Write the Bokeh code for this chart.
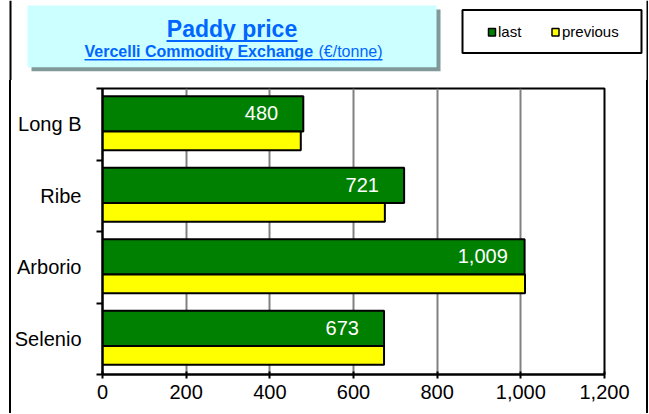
from bokeh.plotting import figure
from bokeh.layouts import column, row
from bokeh.models import FixedTicker, NumeralTickFormatter, ColumnDataSource, Range1d, Spacer
from bokeh.embed import file_html
from bokeh.resources import INLINE
from bokeh.core.properties import value

# ---- data ----
categories = ["Long B", "Ribe", "Arborio", "Selenio"]
last = [480, 721, 1009, 673]
previous = [474, 675, 1010, 673]
x_ticks = [0, 200, 400, 600, 800, 1000, 1200]
series_names = ["last", "previous"]
title = "Paddy price"
subtitle_bold = "Vercelli Commodity Exchange"
subtitle_unit = "(€/tonne)"

FONT = "Liberation Sans"
GREEN = "#008000"
YELLOW = "#FFFF00"
BLUE = "#0066FF"
CYAN = "#CCFFFF"
SHADOW = "#809999"


def blank(w, h, xr, yr, color="white"):
    f = figure(width=w, height=h, x_range=Range1d(*xr), y_range=Range1d(*yr),
               x_axis_type=None, y_axis_type=None, output_backend="svg",
               toolbar_location=None, min_border=0)
    f.outline_line_color = None
    f.background_fill_color = color
    f.border_fill_color = color
    return f


# ---------------- header (title + legend) ----------------
W, HH = 648, 80
head = blank(W, HH, (0, W), (HH, 0))
# outer border (left/right)
head.segment(x0=[10, 647], y0=[0, 0], x1=[10, 647], y1=[HH, HH],
             line_color="black", line_width=2)
# title box with shadow
head.quad(left=[31], right=[440], top=[9], bottom=[70.7], fill_color=SHADOW, line_color=None)
head.quad(left=[27], right=[436], top=[5], bottom=[66.7], fill_color=CYAN, line_color=None)
head.text(x=[231.5], y=[36 - 0.33 * 23], text=[title], text_font=value(FONT),
          text_font_size="23px", text_font_style="bold", text_color=BLUE,
          text_align="center", text_baseline="middle")
head.quad(left=[166], right=[297], top=[39.5], bottom=[41.5], fill_color=BLUE, line_color=None)
head.text(x=[84], y=[56 - 0.33 * 16], text=[subtitle_bold], text_font=value(FONT),
          text_font_size="16px", text_font_style="bold", text_color=BLUE,
          text_align="left", text_baseline="middle")
head.text(x=[318], y=[56 - 0.33 * 16], text=[subtitle_unit], text_font=value(FONT),
          text_font_size="16px", text_color=BLUE, text_align="left",
          text_baseline="middle")
head.quad(left=[84], right=[382], top=[58.5], bottom=[60], fill_color=BLUE, line_color=None)
# legend box
head.quad(left=[462], right=[641], top=[9.5], bottom=[52.5], fill_color="white",
          line_color="black", line_width=2)
head.quad(left=[488, 551.5], right=[495, 558.5], top=[28, 28], bottom=[35.5, 35.5],
          fill_color=[GREEN, YELLOW], line_color="black", line_width=1.5)
head.text(x=[497.5, 561.5], y=[35.5 - 0.33 * 15] * 2, text=series_names,
          text_font=value(FONT), text_font_size="15px", text_color="black",
          text_align="left", text_baseline="middle")

# ---------------- main chart ----------------
n = len(categories)
band_top = [n - i for i in range(n)]

src = ColumnDataSource(dict(
    cat=categories, last=last, previous=previous,
    g_top=[t - 0.11 for t in band_top],
    g_bot=[t - 0.60 for t in band_top],
    y_bot=[t - 0.865 for t in band_top],
    lbl=[f"{v:,}" for v in last],
    lbl_x=[v - 100 for v in last],
    lbl_y=[t - 0.345 for t in band_top],
))

MW, MH = 627, 333
p = figure(width=MW, height=MH, x_range=Range1d(0, 1200), y_range=Range1d(0, n),
           output_backend="svg", toolbar_location=None,
           min_border_left=91, min_border_right=34, min_border_top=8, min_border_bottom=39)
p.background_fill_color = "white"
p.border_fill_color = "white"
p.outline_line_color = "black"
p.outline_line_width = 2

p.quad(left=0, right="last", top="g_top", bottom="g_bot", source=src,
       fill_color=GREEN, line_color="black", line_width=2)
p.quad(left=0, right="previous", top="g_bot", bottom="y_bot", source=src,
       fill_color=YELLOW, line_color="black", line_width=2)
p.text(x="lbl_x", y="lbl_y", text="lbl", source=src, text_color="white",
       text_font=value(FONT), text_font_size="20px", text_align="center",
       text_baseline="middle")

xa = p.xaxis[0]
xa.ticker = FixedTicker(ticks=x_ticks)
xa.formatter = NumeralTickFormatter(format="0,0")
xa.axis_line_width = 2
xa.axis_line_color = "black"
xa.major_tick_line_width = 2
xa.major_tick_in = 3
xa.major_tick_out = 4
xa.minor_tick_line_color = None
xa.major_label_text_font = FONT
xa.major_label_text_font_size = "20px"
xa.major_label_text_color = "black"
xa.major_label_standoff = 6

ya = p.yaxis[0]
centers = [t - 0.5 for t in band_top]
ya.ticker = FixedTicker(ticks=centers, minor_ticks=list(range(0, n + 1)))
ya.major_label_overrides = {c: name for c, name in zip(centers, categories)}
ya.axis_line_width = 2
ya.axis_line_color = "black"
ya.major_tick_line_color = None
ya.major_tick_in = 0
ya.major_tick_out = 0
ya.minor_tick_in = 0
ya.minor_tick_out = 6
ya.minor_tick_line_width = 2
ya.minor_tick_line_color = "black"
ya.major_label_text_font = FONT
ya.major_label_text_font_size = "20px"
ya.major_label_text_color = "black"
ya.major_label_standoff = 15

p.xgrid.grid_line_color = "#808080"
p.xgrid.grid_line_width = 2
p.ygrid.visible = False

# outer border lines beside the chart: 2px black blocks
BLACK_LINE = {"background-color": "black"}
left_line = Spacer(width=2, height=MH, styles=BLACK_LINE)
right_line = Spacer(width=2, height=MH, styles=BLACK_LINE)

body = row(Spacer(width=9, height=MH), left_line, p, Spacer(width=8, height=MH), right_line,
           spacing=0)
layout = column(head, body, spacing=0)

open("out.html", "w").write(file_html(layout, INLINE))
